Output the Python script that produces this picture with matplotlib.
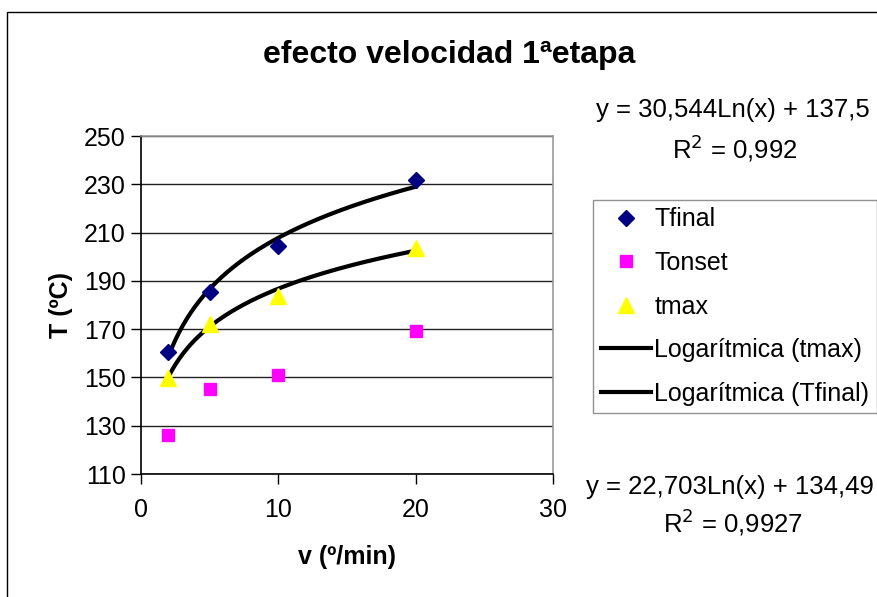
import numpy as np
import matplotlib
matplotlib.use("Agg")
import matplotlib.pyplot as plt
from matplotlib.patches import Rectangle

plt.rcParams['font.family'] = ['Liberation Sans', 'DejaVu Sans']

# data
v = [2, 5, 10, 20]
t_final = [160.5, 185.4, 204.4, 231.8]
t_onset = [126.1, 145.2, 151.0, 169.2]
t_max = [149.8, 172.0, 183.7, 203.6]

# trendline coefficients shown on the chart: y = a*ln(x) + b
fit_final = (30.544, 137.5)
fit_max = (22.703, 134.49)

W, H = 878, 597
fig = plt.figure(figsize=(W / 100, H / 100), dpi=100)

# outer chart border (cut off at right and bottom)
fig.patches.append(Rectangle((7 / W, -0.1), 1.2, 1 - 12 / H + 0.1,
                             transform=fig.transFigure, fill=False,
                             edgecolor='black', linewidth=1.0))

left, right, top, bottom = 141, 553, 136, 474
ax = fig.add_axes([left / W, 1 - bottom / H, (right - left) / W, (bottom - top) / H])

xs = np.linspace(min(v), max(v), 200)
ax.plot(v, t_final, linestyle='none', marker='D', color='#000080', markersize=8.5, label='Tfinal', zorder=4)
ax.plot(v, t_onset, linestyle='none', marker='s', color='#FF00FF', markersize=9, label='Tonset', zorder=4)
ax.plot(v, t_max, linestyle='none', marker='^', color='#FFFF00', markersize=11, label='tmax', zorder=4)
ax.plot(xs, fit_max[0] * np.log(xs) + fit_max[1], color='black', linewidth=3,
        label='Logarítmica (tmax)', zorder=3)
ax.plot(xs, fit_final[0] * np.log(xs) + fit_final[1], color='black', linewidth=3,
        label='Logarítmica (Tfinal)', zorder=3)

ax.set_xlim(0, 30)
ax.set_ylim(110, 250)
ax.set_xticks([0, 10, 20, 30])
ax.set_yticks(range(110, 251, 20))
ax.yaxis.grid(True, color='#222222', linewidth=1.0)
ax.set_axisbelow(True)
ax.tick_params(axis='both', labelsize=18, length=7, width=1, direction='out', color='black')
ax.tick_params(axis='x', pad=10)
ax.tick_params(axis='y', pad=4)
for s in ['left', 'bottom']:
    ax.spines[s].set_color('black')
    ax.spines[s].set_linewidth(1.2)
for s in ['top', 'right']:
    ax.spines[s].set_color('#999999')
    ax.spines[s].set_linewidth(1.2)

ax.set_xlabel('v (º/min)', fontsize=18, fontweight='bold', labelpad=17)
ax.set_ylabel('T (ºC)', fontsize=18, fontweight='bold', labelpad=8)

fig.text(449 / W, 1 - 55 / H, 'efecto velocidad 1ªetapa', fontsize=23, fontweight='bold',
         ha='center', va='center')

fig.text(733 / W, 1 - 110 / H, 'y = 30,544Ln(x) + 137,5', fontsize=18.5, ha='center', va='center')
fig.text(735 / W, 1 - 148 / H, 'R$^{2}$ = 0,992', fontsize=18.5, ha='center', va='center')
fig.text(730 / W, 1 - 487 / H, 'y = 22,703Ln(x) + 134,49', fontsize=18.5, ha='center', va='center')
fig.text(733 / W, 1 - 522 / H, 'R$^{2}$ = 0,9927', fontsize=18.5, ha='center', va='center')

leg = fig.legend(loc='upper left', bbox_to_anchor=(593 / W, 1 - 200 / H), fontsize=18,
                 frameon=True, fancybox=False, borderpad=0.3, labelspacing=0.78,
                 handlelength=2.0, handletextpad=0.15, borderaxespad=0)
leg.get_frame().set_edgecolor('#777777')
leg.get_frame().set_linewidth(1.0)

fig.savefig('out.png', dpi=100)
